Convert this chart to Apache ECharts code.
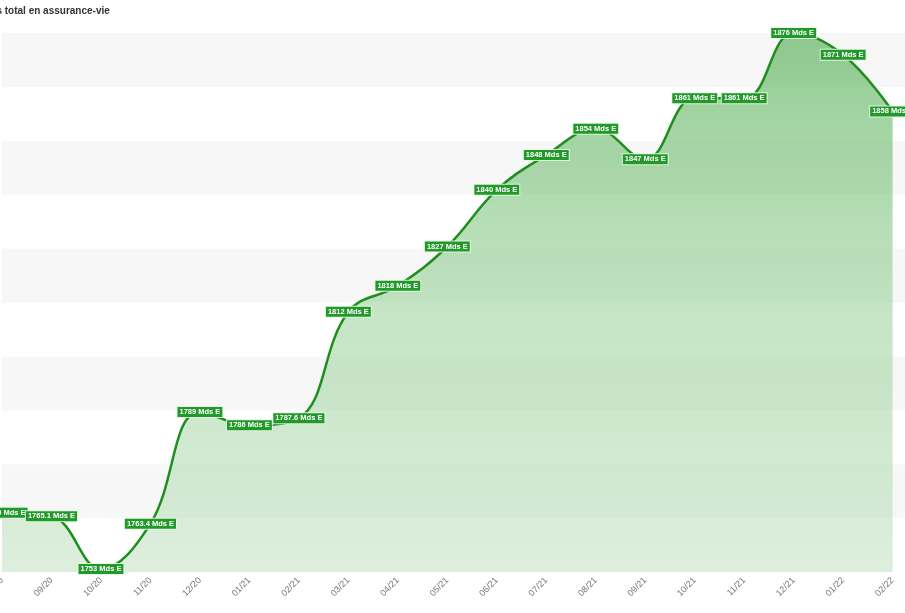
<!DOCTYPE html>
<html>
<head>
<meta charset="utf-8">
<style>html,body{margin:0;padding:0;background:#fff;}#c{width:905px;height:613px;}</style>
<script src="https://cdn.jsdelivr.net/npm/echarts@6/dist/echarts.min.js"></script>
</head>
<body>
<div id="c"></div>
<script>
const titleText = "Encours total en assurance-vie";
const categories = ["08/20","09/20","10/20","11/20","12/20","01/21","02/21","03/21","04/21","05/21","06/21","07/21","08/21","09/21","10/21","11/21","12/21","01/22","02/22"];
const values = [1765.9, 1765.1, 1753, 1763.4, 1789, 1786, 1787.6, 1812, 1818, 1827, 1840, 1848, 1854, 1847, 1861, 1861, 1876, 1871, 1858];
const unit = " Mds E";

const chart = echarts.init(document.getElementById('c'));
chart.setOption({
  animation: false,
  backgroundColor: '#ffffff',
  title: {
    text: titleText, left: -43, top: 1,
    textStyle: {fontFamily: 'Liberation Sans, Arial, sans-serif', fontSize: 10, fontWeight: 'bold', color: '#333'}
  },
  grid: {left: 2, right: 0, top: 33, bottom: 41, containLabel: false, outerBoundsMode: 'none'},
  xAxis: {
    type: 'value', min: 0, max: 18.25, interval: 1,
    axisLine: {show: false}, axisTick: {show: false}, splitLine: {show: false},
    axisLabel: {
      rotate: 45, margin: 7, color: '#777', fontSize: 9,
      fontFamily: 'Liberation Sans, Arial, sans-serif',
      formatter: function (v) { return Number.isInteger(v) && categories[v] ? categories[v] : ''; }
    }
  },
  yAxis: [
    {type: 'value', min: 1752.3, max: 1876, show: false, splitLine: {show: false}},
    {type: 'value', min: 0, max: 10, interval: 1, axisLabel: {show: false}, axisLine: {show: false}, axisTick: {show: false},
     splitLine: {show: false}, splitArea: {show: true, areaStyle: {color: ['#ffffff', '#f7f7f7']}}}
  ],
  series: [{
    type: 'line',
    yAxisIndex: 0,
    data: values.map((v, i) => [i, v]),
    smooth: 0.4,
    symbol: 'circle',
    symbolSize: 2,
    showSymbol: true,
    itemStyle: {color: 'rgba(0,0,0,0)', borderWidth: 0},
    lineStyle: {color: '#1e8f1e', width: 2.5},
    areaStyle: {
      color: new echarts.graphic.LinearGradient(0, 0, 0, 1, [
        {offset: 0, color: 'rgba(80,172,80,0.9)'},
        {offset: 0.5, color: 'rgba(150,208,150,0.8)'},
        {offset: 1, color: 'rgba(205,230,205,0.95)'}
      ])
    },
    label: {
      show: true, position: 'inside',
      formatter: function (p) { return p.value[1] + unit; },
      color: '#ffffff', fontSize: 7.5, fontWeight: 'bold',
      fontFamily: 'Liberation Sans, Arial, sans-serif',
      backgroundColor: '#22992a', borderColor: 'rgba(225,250,225,0.9)', borderWidth: 1,
      padding: [1, 2, 1, 2]
    },
    labelLayout: {hideOverlap: false}
  }]
});
</script>
</body>
</html>
